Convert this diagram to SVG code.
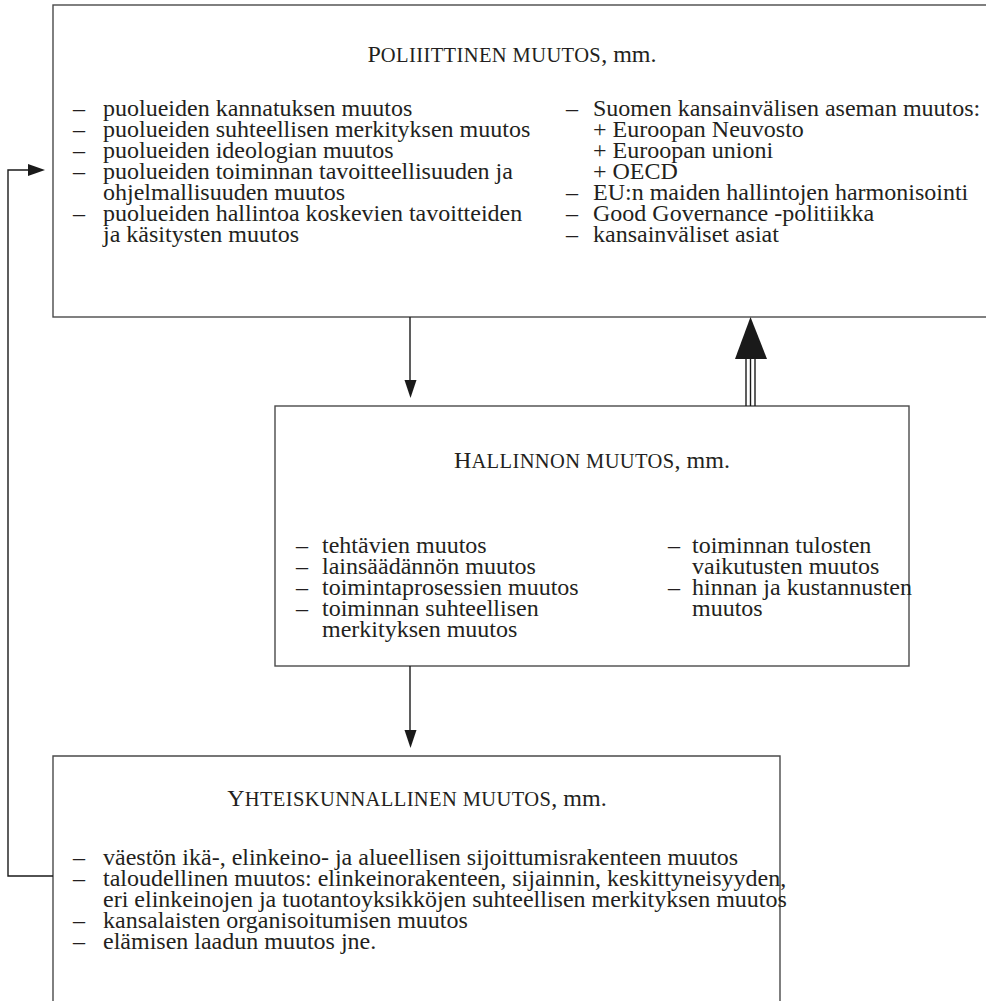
<svg xmlns="http://www.w3.org/2000/svg" width="986" height="1001" viewBox="0 0 986 1001">
  <style>
    .box { fill: #ffffff; stroke: #4a4a4a; stroke-width: 1.4; }
    .t { font-family: "Liberation Serif", "Times New Roman", serif; font-size: 24px; fill: #231f20; }
    .ttl { font-family: "Liberation Serif", "Times New Roman", serif; font-size: 24px; fill: #231f20; text-anchor: middle; }
    .sc { font-size: 20.5px; letter-spacing: 0.4px; }
    .ln { stroke: #1a1a1a; stroke-width: 1.4; fill: none; }
    .head { fill: #1a1a1a; }
  </style>

  <!-- Political change -->
  <g id="poliittinen">
    <rect class="box" x="53" y="5" width="945" height="312"/>
    <text class="ttl" x="512" y="62">P<tspan class="sc">OLIIITTINEN MUUTOS</tspan>, mm.</text>
    <g class="t">
      <text x="73" y="116">–</text><text x="103" y="116">puolueiden kannatuksen muutos</text>
      <text x="73" y="137">–</text><text x="103" y="137">puolueiden suhteellisen merkityksen muutos</text>
      <text x="73" y="158">–</text><text x="103" y="158">puolueiden ideologian muutos</text>
      <text x="73" y="179">–</text><text x="103" y="179">puolueiden toiminnan tavoitteellisuuden ja</text>
      <text x="103" y="200">ohjelmallisuuden muutos</text>
      <text x="73" y="221">–</text><text x="103" y="221">puolueiden hallintoa koskevien tavoitteiden</text>
      <text x="103" y="242">ja käsitysten muutos</text>

      <text x="566" y="116">–</text><text x="593" y="116">Suomen kansainvälisen aseman muutos:</text>
      <text x="593" y="137">+ Euroopan Neuvosto</text>
      <text x="593" y="158">+ Euroopan unioni</text>
      <text x="593" y="179">+ OECD</text>
      <text x="566" y="200">–</text><text x="593" y="200">EU:n maiden hallintojen harmonisointi</text>
      <text x="566" y="221">–</text><text x="593" y="221">Good Governance -politiikka</text>
      <text x="566" y="242">–</text><text x="593" y="242">kansainväliset asiat</text>
    </g>
  </g>

  <!-- Administrative change -->
  <g id="hallinnon">
    <rect class="box" x="275" y="406" width="634" height="260"/>
    <text class="ttl" x="592" y="468">H<tspan class="sc">ALLINNON MUUTOS</tspan>, mm.</text>
    <g class="t">
      <text x="296" y="553">–</text><text x="322" y="553">tehtävien muutos</text>
      <text x="296" y="574">–</text><text x="322" y="574">lainsäädännön muutos</text>
      <text x="296" y="595">–</text><text x="322" y="595">toimintaprosessien muutos</text>
      <text x="296" y="616">–</text><text x="322" y="616">toiminnan suhteellisen</text>
      <text x="322" y="637">merkityksen muutos</text>

      <text x="668" y="553">–</text><text x="692" y="553">toiminnan tulosten</text>
      <text x="692" y="574">vaikutusten muutos</text>
      <text x="668" y="595">–</text><text x="692" y="595">hinnan ja kustannusten</text>
      <text x="692" y="616">muutos</text>
    </g>
  </g>

  <!-- Societal change (open at the bottom edge) -->
  <g id="yhteiskunnallinen">
    <path class="box" d="M53,1002 V756 H780 V1002"/>
    <text class="ttl" x="417" y="806">Y<tspan class="sc">HTEISKUNNALLINEN MUUTOS</tspan>, mm.</text>
    <g class="t">
      <text x="73" y="865">–</text><text x="103" y="865">väestön ikä-, elinkeino- ja alueellisen sijoittumisrakenteen muutos</text>
      <text x="73" y="886">–</text><text x="103" y="886">taloudellinen muutos: elinkeinorakenteen, sijainnin, keskittyneisyyden,</text>
      <text x="103" y="907">eri elinkeinojen ja tuotantoyksikköjen suhteellisen merkityksen muutos</text>
      <text x="73" y="928">–</text><text x="103" y="928">kansalaisten organisoitumisen muutos</text>
      <text x="73" y="949">–</text><text x="103" y="949">elämisen laadun muutos jne.</text>
    </g>
  </g>

  <!-- Connectors -->
  <g id="connectors">
    <!-- political -> administrative -->
    <line class="ln" x1="410" y1="317" x2="410" y2="384"/>
    <polygon class="head" points="404.5,380 416.5,380 410.5,398"/>
    <!-- administrative -> societal -->
    <line class="ln" x1="410" y1="666" x2="410" y2="734"/>
    <polygon class="head" points="404.5,730 416.5,730 410.5,748"/>
    <!-- administrative => political (triple shaft) -->
    <line class="ln" x1="746" y1="358" x2="746" y2="406"/>
    <line class="ln" x1="750.5" y1="358" x2="750.5" y2="406"/>
    <line class="ln" x1="755" y1="358" x2="755" y2="406"/>
    <polygon class="head" points="750.5,317 735,359 767,359"/>
    <!-- societal -> political feedback -->
    <polyline class="ln" points="53,876 8,876 8,170 32,170"/>
    <polygon class="head" points="28,164 45,170 28,176"/>
  </g>
</svg>
